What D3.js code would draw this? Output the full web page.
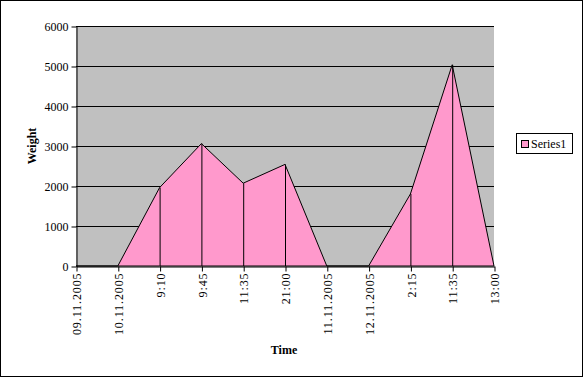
<!DOCTYPE html>
<html>
<head>
<meta charset="utf-8">
<script src="https://d3js.org/d3.v7.min.js"></script>
<style>
  body { margin: 0; background: #fff; }
  text { font-family: "Liberation Serif", "Times New Roman", serif; }
</style>
</head>
<body>
<svg id="chart" width="583" height="377"></svg>
<script>
var categories = ["09.11.2005", "10.11.2005", "9:10", "9:45", "11:35", "21:00",
                  "11.11.2005", "12.11.2005", "2:15", "11:35", "13:00"];
var weights = [0, 0, 1960, 3060, 2070, 2540, 0, 0, 1800, 5030, 0];
var yTicks = [0, 1000, 2000, 3000, 4000, 5000, 6000];
var seriesName = "Series1";

var svg = d3.select("#chart");
var plotL = 76, plotR = 494, plotT = 26, plotB = 266;

// outer border
svg.append("rect")
  .attr("x", 0.5).attr("y", 0.5)
  .attr("width", 582).attr("height", 376)
  .attr("fill", "#fff").attr("stroke", "#000");

var x = d3.scalePoint()
  .domain(d3.range(categories.length))
  .range([plotL, plotR]);

var y = d3.scaleLinear()
  .domain([0, 6000])
  .range([plotB, plotT]);

// plot area
svg.append("rect")
  .attr("x", plotL).attr("y", plotT)
  .attr("width", plotR - plotL).attr("height", plotB - plotT)
  .attr("fill", "#c0c0c0");

// gridlines
svg.append("g").selectAll("line")
  .data(yTicks.slice(1))
  .enter().append("line")
  .attr("x1", plotL).attr("x2", plotR)
  .attr("y1", d => y(d) + 0.5).attr("y2", d => y(d) + 0.5)
  .attr("stroke", "#000");

var data = weights.map((v, i) => ({i: i, v: v}));

var area = d3.area()
  .x(d => x(d.i))
  .y0(y(0))
  .y1(d => y(d.v));

svg.append("path")
  .datum(data)
  .attr("d", area)
  .attr("fill", "#ff99cc")
  .attr("stroke", "#000")
  .attr("stroke-width", 1);

// drop lines
svg.append("g").selectAll("line")
  .data(data.filter(d => d.v > 0))
  .enter().append("line")
  .attr("x1", d => x(d.i) + 0.5).attr("x2", d => x(d.i) + 0.5)
  .attr("y1", d => y(d.v)).attr("y2", y(0))
  .attr("stroke", "#000");

// y axis
var yAxis = svg.append("g")
  .attr("transform", "translate(" + (plotL + 0.5) + ",0.5)")
  .call(d3.axisLeft(y).tickValues(yTicks).tickSize(5).tickSizeOuter(0).tickPadding(3).tickFormat(d3.format("d")));
yAxis.select(".domain").attr("stroke", "#000");
yAxis.selectAll("text")
  .attr("font-family", "Liberation Serif")
  .attr("font-size", "12px")
  .attr("fill", "#000");

// x axis
var xAxis = svg.append("g")
  .attr("transform", "translate(0.5," + (plotB + 0.5) + ")")
  .call(d3.axisBottom(x).tickSize(5).tickSizeOuter(0).tickFormat(i => categories[i]));
xAxis.select(".domain").attr("stroke", "#000");
xAxis.selectAll("text")
  .attr("font-family", "Liberation Serif")
  .attr("font-size", "12px")
  .attr("letter-spacing", "0.9px")
  .attr("fill", "#000")
  .attr("text-anchor", "end")
  .attr("dy", "0.35em")
  .attr("y", 0)
  .attr("transform", "translate(0,6) rotate(-90)");

// axis titles
svg.append("text")
  .attr("x", 284).attr("y", 354)
  .attr("text-anchor", "middle")
  .attr("font-weight", "bold")
  .attr("font-size", "12px")
  .text("Time");

svg.append("text")
  .attr("transform", "translate(36,146) rotate(-90)")
  .attr("text-anchor", "middle")
  .attr("font-weight", "bold")
  .attr("font-size", "12px")
  .text("Weight");

// legend
var lg = svg.append("g");
lg.append("rect")
  .attr("x", 516.5).attr("y", 133.5)
  .attr("width", 56).attr("height", 20)
  .attr("fill", "#fff").attr("stroke", "#000");
lg.append("rect")
  .attr("x", 521.5).attr("y", 140.5)
  .attr("width", 7).attr("height", 7)
  .attr("fill", "#ff99cc").attr("stroke", "#000");
lg.append("text")
  .attr("x", 531).attr("y", 148)
  .attr("font-size", "12px")
  .text(seriesName);
</script>
</body>
</html>
